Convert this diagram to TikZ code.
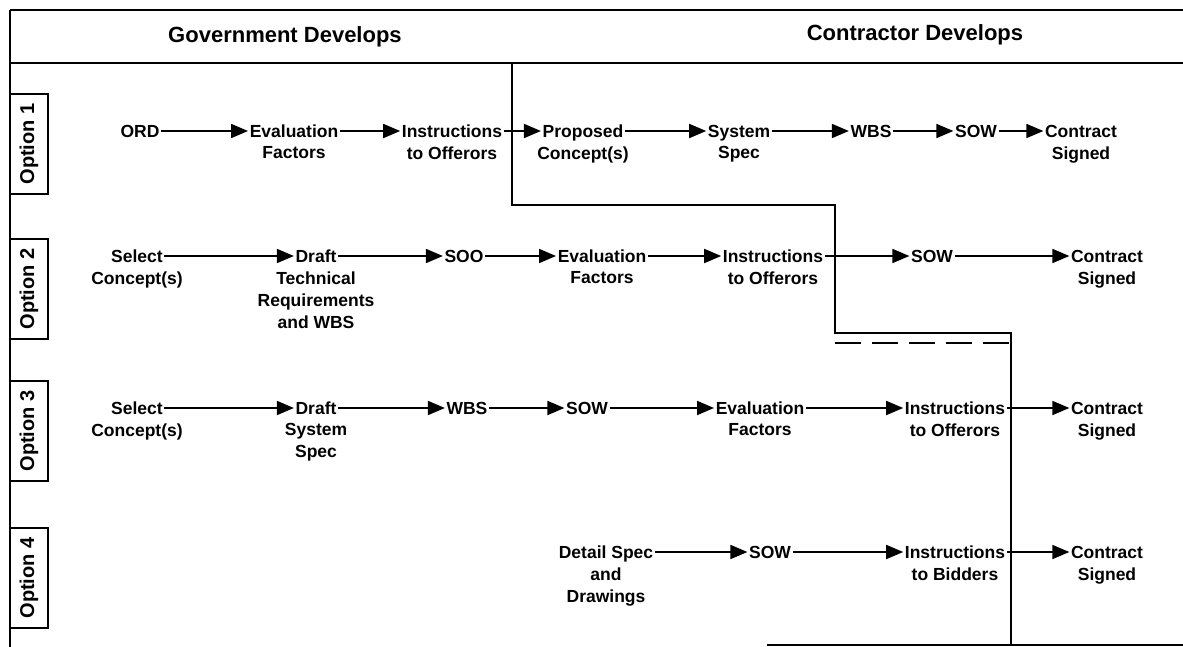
\documentclass[tikz,border=0pt]{standalone}
\usepackage{fontspec}
\setmainfont{Liberation Sans}
\usetikzlibrary{arrows.meta}
\begin{document}
\begin{tikzpicture}[x=1pt,y=-1pt,
  lbl/.style={font=\fontsize{17.5}{22}\selectfont\bfseries, inner sep=1.5pt, text height=12.5pt, text depth=0pt},
  sub/.style={font=\fontsize{17.5}{22}\selectfont\bfseries, align=center, inner sep=0pt, label distance=7.5pt},
  head/.style={font=\fontsize{22}{26}\selectfont\bfseries, inner sep=0pt},
  opt/.style={draw, line width=2.4pt, minimum width=100pt, minimum height=38pt, rotate=90, font=\fontsize{20}{24}\selectfont\bfseries, inner sep=0pt},
  flow/.style={line width=1.8pt, -{Triangle[length=17pt,width=14pt]}},
  frame/.style={line width=2.8pt}]
\useasboundingbox (0,0) rectangle (1183,647);
% frame
\draw[frame] (10,10) -- (1183,10);
\draw[frame] (10,10) -- (10,647);
\draw[frame] (10,63) -- (1183,63);
\draw[frame] (767,645) -- (1183,645);
\draw[frame] (512,63) -- (512,205) -- (835,205) -- (835,333) -- (1011,333) -- (1011,645);
\draw[frame, dash pattern=on 26pt off 11pt] (835,343) -- (1011,343);
% headers
\node[head] (gov) at (285,37) {Government Develops};
\node[head] (con) at (915,35) {Contractor Develops};
% option boxes
\node[opt] (op1) at (29,144) {Option 1};
\node[opt] (op2) at (29,289) {Option 2};
\node[opt] (op3) at (29,431) {Option 3};
\node[opt] (op4) at (29,578) {Option 4};
% row 1
\node[lbl] (a1) at (140,131) {ORD};
\node[lbl, label={[sub]below:Factors}] (a2) at (294,131) {Evaluation};
\node[lbl, label={[sub]below:to Offerors}] (a3) at (452,131) {Instructions};
\node[lbl, label={[sub]below:Concept(s)}] (a4) at (583,131) {Proposed};
\node[lbl, label={[sub]below:Spec}] (a5) at (739,131) {System};
\node[lbl] (a6) at (871,131) {WBS};
\node[lbl] (a7) at (976,131) {SOW};
\node[lbl, label={[sub]below:Signed}] (a8) at (1081,131) {Contract};
\foreach \p/\q in {a1/a2,a2/a3,a3/a4,a4/a5,a5/a6,a6/a7,a7/a8}
  \draw[flow] (\p.east) -- (\q.west);
% row 2
\node[lbl, label={[sub]below:Concept(s)}] (b1) at (137,256) {Select};
\node[lbl, label={[sub]below:Technical\\Requirements\\and WBS}] (b2) at (316,256) {Draft};
\node[lbl] (b3) at (464,256) {SOO};
\node[lbl, label={[sub]below:Factors}] (b4) at (602,256) {Evaluation};
\node[lbl, label={[sub]below:to Offerors}] (b5) at (773,256) {Instructions};
\node[lbl] (b6) at (932,256) {SOW};
\node[lbl, label={[sub]below:Signed}] (b7) at (1107,256) {Contract};
\foreach \p/\q in {b1/b2,b2/b3,b3/b4,b4/b5,b5/b6,b6/b7}
  \draw[flow] (\p.east) -- (\q.west);
% row 3
\node[lbl, label={[sub]below:Concept(s)}] (c1) at (137,408) {Select};
\node[lbl, label={[sub]below:System\\Spec}] (c2) at (316,408) {Draft};
\node[lbl] (c3) at (467,408) {WBS};
\node[lbl] (c4) at (587,408) {SOW};
\node[lbl, label={[sub]below:Factors}] (c5) at (760,408) {Evaluation};
\node[lbl, label={[sub]below:to Offerors}] (c6) at (955,408) {Instructions};
\node[lbl, label={[sub]below:Signed}] (c7) at (1107,408) {Contract};
\foreach \p/\q in {c1/c2,c2/c3,c3/c4,c4/c5,c5/c6,c6/c7}
  \draw[flow] (\p.east) -- (\q.west);
% row 4
\node[lbl, label={[sub]below:and\\Drawings}] (d1) at (606,552) {Detail Spec};
\node[lbl] (d2) at (770,552) {SOW};
\node[lbl, label={[sub]below:to Bidders}] (d3) at (955,552) {Instructions};
\node[lbl, label={[sub]below:Signed}] (d4) at (1107,552) {Contract};
\foreach \p/\q in {d1/d2,d2/d3,d3/d4}
  \draw[flow] (\p.east) -- (\q.west);
\end{tikzpicture}
\end{document}
